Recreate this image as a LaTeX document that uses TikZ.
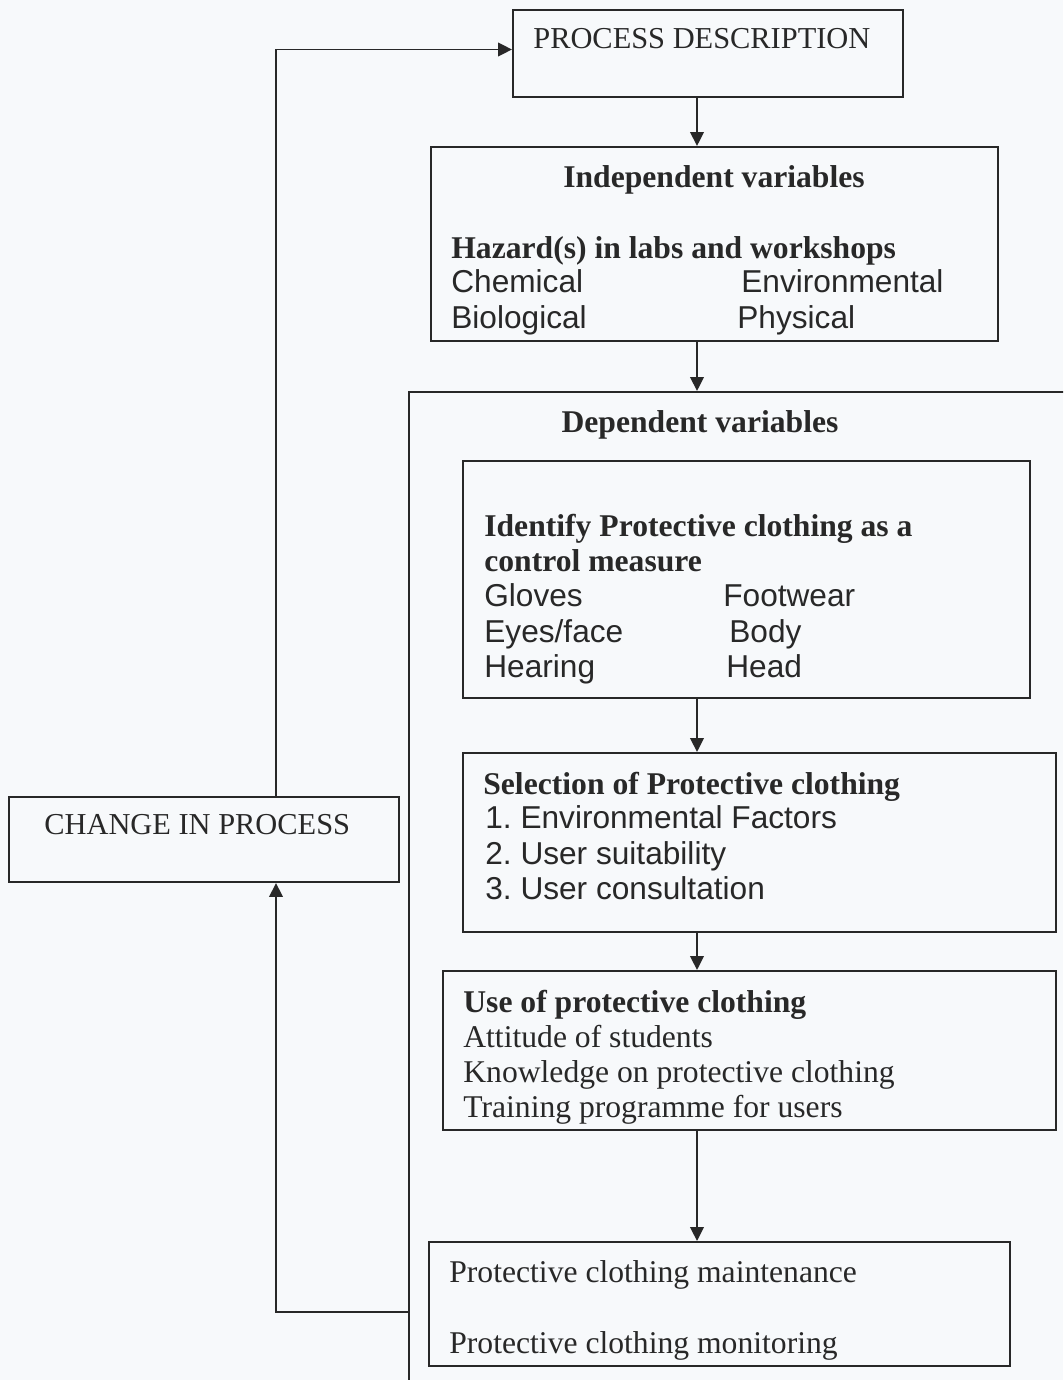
\documentclass[tikz,border=0pt]{standalone}
\usepackage{fontspec}
\setmainfont{Liberation Serif}
\setsansfont{Liberation Sans}
\usetikzlibrary{positioning,fit,arrows.meta}

\definecolor{ink}{RGB}{40,40,40}
\definecolor{paper}{RGB}{247,249,251}

\begin{document}
\frenchspacing
\begin{tikzpicture}[x=0.2mm, y=-0.2mm,
    box/.style={draw=ink, line width=1.1pt, inner sep=0pt, fit={#1}},
    txt/.style={anchor=base west, inner sep=0pt, text=ink, font=\fontsize{18}{20}\selectfont},
    caps/.style={txt, font=\fontsize{17.3}{20}\selectfont},
    sans/.style={txt, font=\sffamily\fontsize{18}{20}\selectfont},
    head/.style={txt, font=\bfseries\fontsize{18}{20}\selectfont},
    arr/.style={draw=ink, line width=1.1pt, -{Triangle[length=2.8mm,width=2.7mm]}}]

      % Page
      \clip (0,0) rectangle (1063,1380);
      \fill[paper] (0,0) rectangle (1063,1380);

      % Define the boxes
      \node[box={(513,10) (903,97)}] (pd) {};
      \node[box={(431,147) (998,341)}] (indep) {};
      \node[box={(409,392) (1090,1400)}] (dep) {};
      \node[box={(463,461) (1030,698)}] (ident) {};
      \node[box={(463,753) (1056,932)}] (select) {};
      \node[box={(443,971) (1056,1130)}] (use) {};
      \node[box={(429,1242) (1010,1366)}] (maint) {};
      \node[box={(9,797) (399,882)}] (cip) {};

      % Texts inside the boxes
      \node[caps] (pdtxt) at (533,48) {PROCESS DESCRIPTION};

      \node[head, anchor=base] (indhead) at (714,187) {Independent variables};
      \node[head] (hazard) at (451,258) {Hazard(s) in labs and workshops};
      \node[sans] (chem) at (451,292) {Chemical};
      \node[sans] (bio) at (451,328) {Biological};
      \node[sans] (env) at (741,292) {Environmental};
      \node[sans] (phys) at (737,328) {Physical};

      \node[head, anchor=base] (dephead) at (700,432) {Dependent variables};
      \node[head] (identa) at (484,536) {Identify Protective clothing as a};
      \node[head] (identb) at (484,571) {control measure};
      \node[sans] (gloves) at (484,606) {Gloves};
      \node[sans] (eyes) at (484,642) {Eyes/face};
      \node[sans] (hearing) at (484,677) {Hearing};
      \node[sans] (foot) at (723,606) {Footwear};
      \node[sans] (body) at (729,642) {Body};
      \node[sans] (headw) at (726,677) {Head};

      \node[head] (selhead) at (483,794) {Selection of Protective clothing};
      \node[sans] (sel1) at (485,828) {1. Environmental Factors};
      \node[sans] (sel2) at (485,864) {2. User suitability};
      \node[sans] (sel3) at (485,899) {3. User consultation};

      \node[head] (usehead) at (463,1012) {Use of protective clothing};
      \node[txt] (use1) at (463,1047) {Attitude of students};
      \node[txt] (use2) at (463,1082) {Knowledge on protective clothing};
      \node[txt] (use3) at (463,1117) {Training programme for users};

      \node[txt] (maint1) at (449,1282) {Protective clothing maintenance};
      \node[txt] (maint2) at (449,1353) {Protective clothing monitoring};

      \node[caps] (ciptxt) at (44,834) {CHANGE IN PROCESS};

      % Arrows down the middle
      \coordinate (mid) at (697,0);
      \draw[arr] (mid |- pd.south) -- (mid |- indep.north);
      \draw[arr] (mid |- indep.south) -- (mid |- dep.north);
      \draw[arr] (mid |- ident.south) -- (mid |- select.north);
      \draw[arr] (mid |- select.south) -- (mid |- use.north);
      \draw[arr] (mid |- use.south) -- (mid |- maint.north);

      % Feedback loop
      \coordinate (loop) at (276,0);
      \coordinate (back) at (409,1312);
      \draw[arr] (back) -| (loop |- cip.south);
      \draw[arr] (loop |- cip.north) |- ([yshift=0.8mm]pd.west);
\end{tikzpicture}
\end{document}
